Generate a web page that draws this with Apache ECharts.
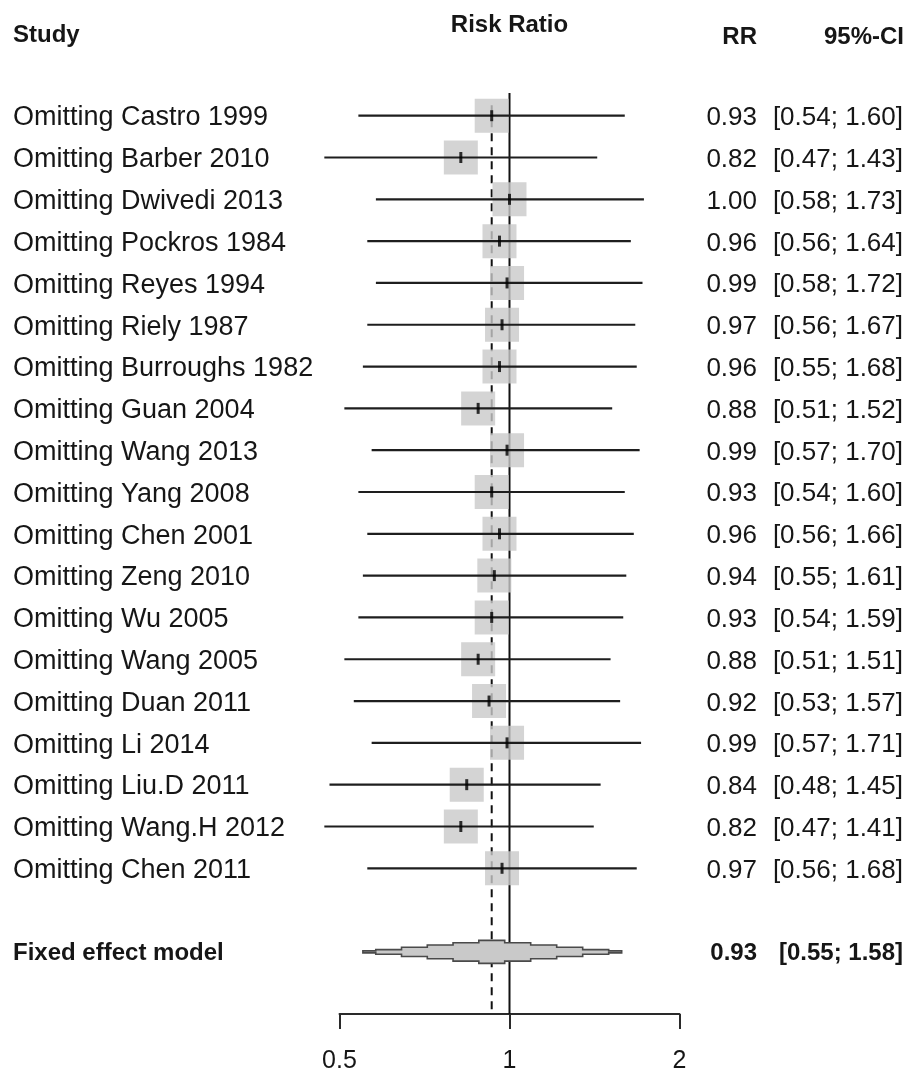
<!DOCTYPE html>
<html><head><meta charset="utf-8">
<script src="https://cdn.jsdelivr.net/npm/echarts@6/dist/echarts.min.js"></script>
<style>html,body{margin:0;padding:0;background:#fff}#c{width:911px;height:1077px}</style>
</head><body><div id="c"></div>
<script>
// ---- data ----
const studies = ["Omitting Castro 1999","Omitting Barber 2010","Omitting Dwivedi 2013","Omitting Pockros 1984","Omitting Reyes 1994","Omitting Riely 1987","Omitting Burroughs 1982","Omitting Guan 2004","Omitting Wang 2013","Omitting Yang 2008","Omitting Chen 2001","Omitting Zeng 2010","Omitting Wu 2005","Omitting Wang 2005","Omitting Duan 2011","Omitting Li 2014","Omitting Liu.D 2011","Omitting Wang.H 2012","Omitting Chen 2011"];
const rr    = [0.93,0.82,1.00,0.96,0.99,0.97,0.96,0.88,0.99,0.93,0.96,0.94,0.93,0.88,0.92,0.99,0.84,0.82,0.97];
const lower = [0.54,0.47,0.58,0.56,0.58,0.56,0.55,0.51,0.57,0.54,0.56,0.55,0.54,0.51,0.53,0.57,0.48,0.47,0.56];
const upper = [1.60,1.43,1.73,1.64,1.72,1.67,1.68,1.52,1.70,1.60,1.66,1.61,1.59,1.51,1.57,1.71,1.45,1.41,1.68];
const pooledLabel = "Fixed effect model";
const pooledRR = 0.93, pooledLower = 0.55, pooledUpper = 1.58;
const headers = ["Study","Risk Ratio","RR","95%-CI"];
const xTicks = [0.5, 1, 2];
const refValue = 1;

// ---- layout ----
const FONT = '"Liberation Sans", Arial, Helvetica, sans-serif';
const TXT = '#161616';
const fmt = v => v.toFixed(2);
const ci = (l,u) => '[' + fmt(l) + '; ' + fmt(u) + ']';
const pooledRow = studies.length + 1;
const rows = studies.map((s,i)=>i).concat([pooledRow]);

const chart = echarts.init(document.getElementById('c'), null, {renderer:'canvas'});

const option = {
  animation:false,
  backgroundColor:'#fff',
  grid:{left:339.5, right:231.5, top:93, bottom:63},
  xAxis:{
    type:'log', logBase:2, min:xTicks[0], max:xTicks[xTicks.length-1], position:'bottom',
    splitLine:{show:false},
    axisLine:{show:true, onZero:false, lineStyle:{color:'#2a2a2a', width:2}},
    axisTick:{show:true, inside:false, length:15, lineStyle:{color:'#2a2a2a', width:2}},
    axisLabel:{show:true, margin:35, fontSize:25, fontFamily:FONT, color:TXT,
      formatter: v => String(+(+v).toFixed(3))},
    minorTick:{show:false}
  },
  yAxis:{type:'value', inverse:true, min:-0.543, max:21.485, show:false},
  series:[
    { // reference lines
      type:'custom', z:1, silent:true, clip:false,
      data:[[refValue, 0], [pooledRR, 1]],
      renderItem:(params, api) => {
        const cs = params.coordSys;
        const x = api.coord([api.value(0), 0])[0];
        const dashed = api.value(1) === 1;
        const y0 = dashed ? api.coord([1, -0.25])[1] : cs.y;
        return {type:'line', shape:{x1:x, y1:y0, x2:x, y2:cs.y+cs.height},
          style:{stroke:'#111', lineWidth:2, lineDash: dashed ? [8,6] : null}};
      }
    },
    { // squares
      type:'scatter', z:2, silent:true, symbol:'rect', symbolSize:34,
      itemStyle:{color:'#c9c9c9'},
      data: rr.map((v,i)=>[v,i])
    },
    { // CI lines
      type:'custom', z:3, silent:true, clip:false,
      data: rr.map((v,i)=>[lower[i], upper[i], i]),
      renderItem:(params, api) => {
        const a = api.coord([api.value(0), api.value(2)]);
        const b = api.coord([api.value(1), api.value(2)]);
        return {type:'line', shape:{x1:a[0], y1:a[1], x2:b[0], y2:b[1]},
          style:{stroke:'#1e1e1e', lineWidth:2.2}};
      }
    },
    { // point estimate ticks
      type:'scatter', z:4, silent:true, symbol:'rect', symbolSize:[3,11],
      itemStyle:{color:'#000'},
      data: rr.map((v,i)=>[v,i])
    },
    { // pooled diamond (stepped)
      type:'custom', z:5, silent:true, clip:false,
      data:[[pooledLower, pooledRR, pooledUpper, pooledRow]],
      renderItem:(params, api) => {
        const r = api.value(3);
        const xL = api.coord([api.value(0), r])[0];
        const c  = api.coord([api.value(1), r]);
        const xR = api.coord([api.value(2), r])[0];
        const xC = c[0], yC = c[1];
        const sl = (xC-xL)/5, sr = (xR-xC)/5, H = 11.5, t = 1;
        const top = [[xL, -t]];
        for (let j=0;j<5;j++){ const bx = xL+(j+0.5)*sl; top.push([bx, -(j===0?t:H*j/5)], [bx, -H*(j+1)/5]); }
        for (let j=4;j>=0;j--){ const bx = xR-(j+0.5)*sr; top.push([bx, -H*(j+1)/5], [bx, -(j===0?t:H*j/5)]); }
        top.push([xR, -t]);
        const pts = top.map(p=>[p[0], yC+p[1]]).concat(top.slice().reverse().map(p=>[p[0], yC-p[1]]));
        return {type:'polygon', shape:{points:pts}, style:{fill:'#c9c9c9', stroke:'#4a4a4a', lineWidth:1.6}};
      }
    },
    { // row texts
      type:'custom', z:6, silent:true, clip:false,
      data: rows.map(r=>[1, r]),
      renderItem:(params, api) => {
        const i = params.dataIndex;
        const y = api.coord([1, api.value(1)])[1];
        const isP = i === studies.length;
        const name = isP ? pooledLabel : studies[i];
        const v = isP ? pooledRR : rr[i];
        const l = isP ? pooledLower : lower[i];
        const u = isP ? pooledUpper : upper[i];
        const nameFont = isP ? 'bold 24px '+FONT : '27px '+FONT;
        const font = isP ? 'bold 24px '+FONT : '26px '+FONT;
        const dy = isP ? 1.8 : 2.3;
        return {type:'group', children:[
          {type:'text', style:{text:name, x:13, y:y+dy, font:nameFont, fill:TXT, textAlign:'left', textVerticalAlign:'middle'}},
          {type:'text', style:{text:fmt(v), x:757, y:y+dy, font:font, fill:TXT, textAlign:'right', textVerticalAlign:'middle'}},
          {type:'text', style:{text:ci(l,u), x:903, y:y+dy, font:font, fill:TXT, textAlign:'right', textVerticalAlign:'middle'}}
        ]};
      }
    }
  ]
};
option.graphic = [
  {type:'text', x:13, y:35, style:{text:headers[0], font:'bold 24px '+FONT, fill:TXT, textAlign:'left', textVerticalAlign:'middle'}},
  {type:'text', x:509.5, y:25, style:{text:headers[1], font:'bold 24px '+FONT, fill:TXT, textAlign:'center', textVerticalAlign:'middle'}},
  {type:'text', x:757, y:37, style:{text:headers[2], font:'bold 24px '+FONT, fill:TXT, textAlign:'right', textVerticalAlign:'middle'}},
  {type:'text', x:904, y:37, style:{text:headers[3], font:'bold 24px '+FONT, fill:TXT, textAlign:'right', textVerticalAlign:'middle'}}
];
chart.setOption(option);
</script></body></html>
